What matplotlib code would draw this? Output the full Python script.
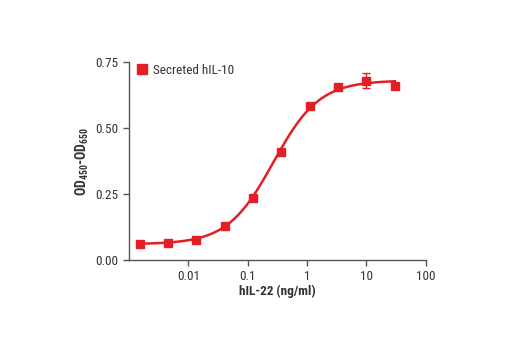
import numpy as np
import matplotlib
matplotlib.use("Agg")
import matplotlib.pyplot as plt
from matplotlib import font_manager
from matplotlib.lines import Line2D

# Data
conc = [0.00152, 0.00457, 0.0137, 0.0412, 0.123, 0.370, 1.11, 3.33, 10.0, 30.0]
od = [0.061, 0.066, 0.076, 0.129, 0.236, 0.408, 0.584, 0.654, 0.679, 0.659]
err = [0, 0, 0, 0, 0, 0, 0, 0, 0.029, 0]
series_label = "Secreted hIL-10"
xticks = [0.01, 0.1, 1, 10, 100]
xticklabels = ["0.01", "0.1", "1", "10", "100"]
yticks = [0.0, 0.25, 0.5, 0.75]
yticklabels = ["0.00", "0.25", "0.50", "0.75"]

# 4PL fit parameters for the curve
fit_bottom, fit_top, fit_ec50, fit_hill = 0.06, 0.68, 0.27, 1.12

names = {f.name for f in font_manager.fontManager.ttflist}
fam = "DejaVu Sans"
for cand in ["Liberation Sans Narrow", "Roboto Condensed", "Liberation Sans"]:
    if cand in names:
        fam = cand
        break
plt.rcParams['font.family'] = [fam, 'DejaVu Sans']
plt.rcParams['mathtext.fontset'] = 'custom'
plt.rcParams['mathtext.rm'] = fam
plt.rcParams['mathtext.bf'] = fam + ':bold'

red = "#e31e26"
txt = "#333333"

fig = plt.figure(figsize=(5.2, 3.5), dpi=100)
ax = fig.add_axes([0.248, 0.257, 0.571, 0.566])

xs = np.logspace(np.log10(min(conc)), np.log10(max(conc)), 300)
ys = fit_bottom + (fit_top - fit_bottom) / (1 + (fit_ec50 / xs) ** fit_hill)
ax.plot(xs, ys, color=red, lw=1.8, zorder=2)
ax.errorbar(conc, od, yerr=err, fmt='s', color=red, ms=5.8, capsize=3,
            elinewidth=1, capthick=1, zorder=3)

ax.set_xscale('log')
ax.set_xlim(0.001, 100)
ax.set_ylim(0, 0.75)
ax.set_xticks(xticks)
ax.set_xticklabels(xticklabels)
ax.xaxis.set_minor_locator(matplotlib.ticker.NullLocator())
ax.set_yticks(yticks)
ax.set_yticklabels(yticklabels)

for s in ['top', 'right']:
    ax.spines[s].set_visible(False)
for s in ['left', 'bottom']:
    ax.spines[s].set_color("#555555")
    ax.spines[s].set_linewidth(1.0)
ax.tick_params(axis='both', direction='out', length=4, width=1, colors="#555555",
               labelcolor=txt, labelsize=9.5)

ax.set_xlabel("hIL-22 (ng/ml)", fontsize=9.5, fontweight='bold', color=txt, labelpad=1)
ax.set_ylabel(r"$\mathbf{OD_{450}}$-$\mathbf{OD_{650}}$", fontsize=10, fontweight='bold',
              color=txt, labelpad=3)

handle = Line2D([], [], marker='s', ls='none', color=red, ms=6.5)
leg = ax.legend([handle], [series_label], loc='upper left', frameon=False, fontsize=9.5,
                handlelength=0.8, handletextpad=0.4, borderaxespad=0.2,
                bbox_to_anchor=(0.0, 1.03))
for t in leg.get_texts():
    t.set_color(txt)

fig.savefig("out.png", dpi=100)
